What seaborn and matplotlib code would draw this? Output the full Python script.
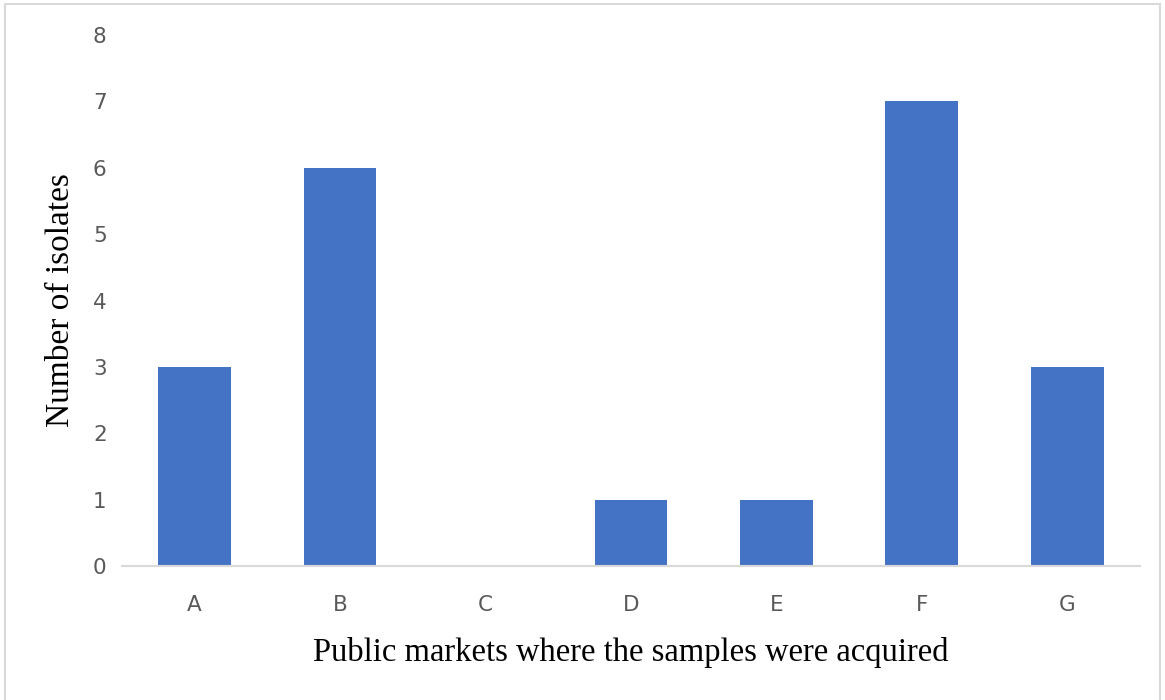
import matplotlib
matplotlib.use("Agg")
import matplotlib.pyplot as plt
import seaborn as sns
import pandas as pd

# Number of isolates per public market
markets = ['A', 'B', 'C', 'D', 'E', 'F', 'G']
isolates = [3, 6, 0, 1, 1, 7, 3]

df = pd.DataFrame({'Market': markets, 'Isolates': isolates})

sns.set_theme(style="white")
plt.rcParams['font.family'] = ['DejaVu Sans']

fig = plt.figure(figsize=(11.65, 7), dpi=100)
ax = fig.add_axes([0.1047, 0.1914, 0.8738, 0.7586])

sns.barplot(x='Market', y='Isolates', data=df, color='#4472C4', width=0.5,
            saturation=1, linewidth=0, ax=ax)

ax.set_ylim(0, 8)
ax.set_xlim(-0.5, len(markets) - 0.5)
ax.set_yticks(range(0, 9))

# only the gray baseline is kept
for side in ['top', 'right', 'left']:
    ax.spines[side].set_visible(False)
ax.spines['bottom'].set_color('#D9D9D9')
ax.spines['bottom'].set_linewidth(1.5)

ax.tick_params(axis='both', length=0, labelsize=15.5, colors='#595959')
ax.tick_params(axis='y', pad=11)
ax.tick_params(axis='x', pad=21)

ax.set_xlabel('Public markets where the samples were acquired',
              fontfamily='Liberation Serif', fontsize=23.5, color='black', labelpad=16)
ax.set_ylabel('Number of isolates', fontfamily='Liberation Serif', fontsize=24,
              color='black', labelpad=12)

# light frame around the picture
fig.patches.append(plt.Rectangle((0.004, -0.01), 0.992, 1.005, transform=fig.transFigure,
                                 fill=False, edgecolor='#D9D9D9', linewidth=1.5))

fig.savefig('out.png', dpi=100)
